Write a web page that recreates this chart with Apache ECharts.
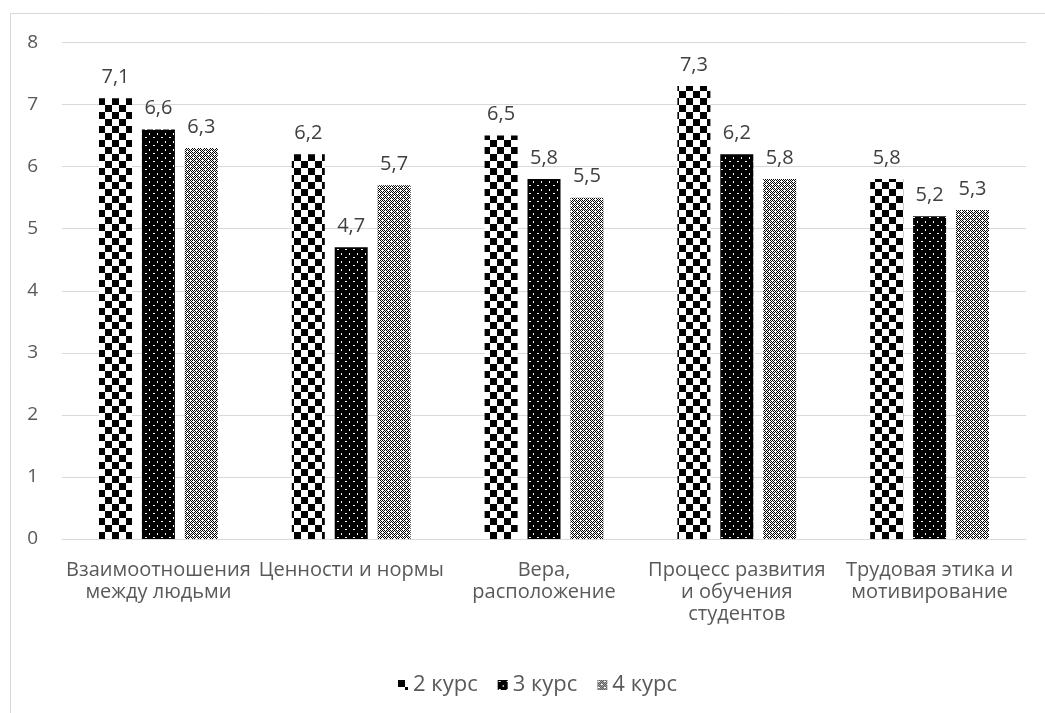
<!DOCTYPE html>
<html>
<head>
<meta charset="utf-8">
<script src="https://cdn.jsdelivr.net/npm/echarts@6/dist/echarts.min.js"></script>
<style>
  html, body { margin: 0; padding: 0; background: #fff; }
  #chart { width: 1045px; height: 713px; }
</style>
</head>
<body>
<div id="chart"></div>
<script>
// Categories (axis labels, wrapped as in the layout)
const categories = [
  'Взаимоотношения\nмежду людьми',
  'Ценности и нормы',
  'Вера,\nрасположение',
  'Процесс развития\nи обучения\nстудентов',
  'Трудовая этика и\nмотивирование'
];
const seriesNames = ['2 курс', '3 курс', '4 курс'];
const kurs2 = [7.1, 6.2, 6.5, 7.3, 5.8];
const kurs3 = [6.6, 4.7, 5.8, 6.2, 5.2];
const kurs4 = [6.3, 5.7, 5.5, 5.8, 5.3];
const yTicks = [0, 1, 2, 3, 4, 5, 6, 7, 8];

const FONT = '"Open Sans", "Noto Sans", sans-serif';

// Pattern fills built on small canvases
function makeTile(w, h, draw) {
  const c = document.createElement('canvas');
  c.width = w; c.height = h;
  const ctx = c.getContext('2d');
  draw(ctx);
  return { image: c, repeat: 'repeat' };
}
// large checkerboard
const checker = makeTile(14, 14, ctx => {
  ctx.fillStyle = '#fff'; ctx.fillRect(0, 0, 14, 14);
  ctx.fillStyle = '#000';
  ctx.fillRect(0, 0, 7, 7);
  ctx.fillRect(7, 7, 7, 7);
});
// black with sparse white dots
const dotted = makeTile(8, 8, ctx => {
  ctx.fillStyle = '#000'; ctx.fillRect(0, 0, 8, 8);
  ctx.fillStyle = '#fff';
  ctx.fillRect(1, 1, 2, 1);
  ctx.fillRect(5, 5, 1, 2);
});
// fine checkerboard with white grid holes
const fine = makeTile(6, 6, ctx => {
  ctx.fillStyle = '#fff'; ctx.fillRect(0, 0, 6, 6);
  ctx.fillStyle = '#000';
  for (let y = 0; y < 6; y++) {
    for (let x = 0; x < 6; x++) {
      if ((x + y) % 2 === 0 && !(x === 4 && y === 4) && !(x === 1 && y === 1)) ctx.fillRect(x, y, 1, 1);
    }
  }
});

const fmt = p => String(p.value).replace('.', ',');

function barSeries(name, data, fill) {
  return {
    name: name,
    type: 'bar',
    data: data,
    barWidth: 33,
    barGap: '30%',
    itemStyle: { color: fill },
    label: {
      show: true,
      position: 'top',
      distance: 11,
      color: '#404040',
      fontFamily: FONT,
      fontSize: 20,
      formatter: fmt
    }
  };
}

const chart = echarts.init(document.getElementById('chart'), null, { renderer: 'canvas' });
chart.setOption({
  animation: false,
  backgroundColor: '#fff',
  graphic: [{
    type: 'rect',
    shape: { x: 10.5, y: 13.5, width: 1100, height: 800 },
    style: { fill: 'none', stroke: '#d9d9d9', lineWidth: 1 },
    silent: true,
    z: -10
  }],
  grid: { left: 62, right: 19, top: 42.5, bottom: 174, containLabel: false },
  legend: {
    left: 393,
    top: 669,
    itemWidth: 10,
    itemHeight: 10,
    itemGap: 20,
    icon: 'rect',
    textStyle: { color: '#595959', fontFamily: FONT, fontSize: 22 },
    data: seriesNames
  },
  xAxis: {
    type: 'category',
    data: categories,
    axisLine: { lineStyle: { color: '#d9d9d9', width: 1 } },
    axisTick: { show: false },
    axisLabel: {
      color: '#595959',
      fontFamily: FONT,
      fontSize: 20,
      lineHeight: 22,
      margin: 20,
      interval: 0
    }
  },
  yAxis: {
    type: 'value',
    min: 0,
    max: 8,
    interval: 1,
    axisLine: { show: false },
    axisTick: { show: false },
    splitLine: { lineStyle: { color: '#d9d9d9', width: 1 } },
    axisLabel: {
      color: '#595959',
      fontFamily: FONT,
      fontSize: 19,
      margin: 24,
      formatter: v => yTicks.includes(v) ? String(v) : ''
    }
  },
  series: [
    barSeries(seriesNames[0], kurs2, checker),
    barSeries(seriesNames[1], kurs3, dotted),
    barSeries(seriesNames[2], kurs4, fine)
  ]
});
</script>
</body>
</html>
